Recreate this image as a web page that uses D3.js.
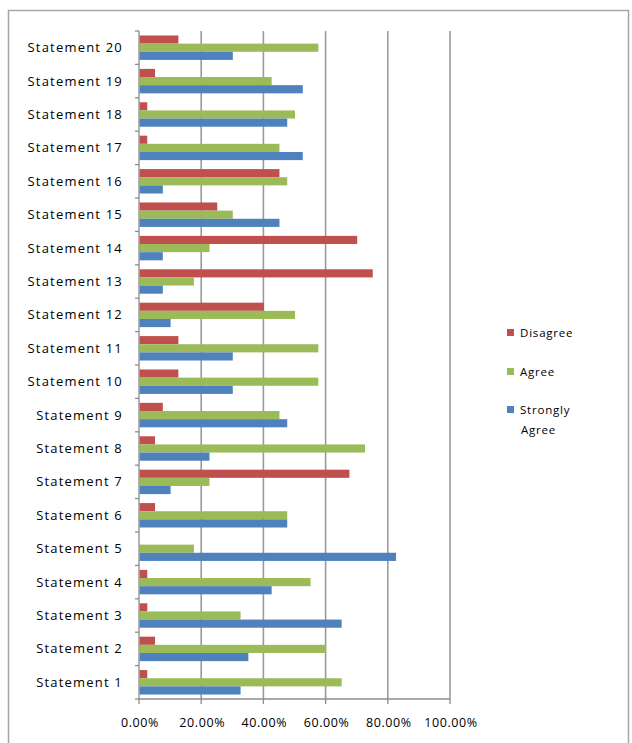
<!DOCTYPE html>
<html><head><meta charset="utf-8">
<script src="https://cdn.jsdelivr.net/npm/d3@7"></script>
<style>body{margin:0;background:#fff}svg{display:block}</style>
</head><body>
<script>
const categories = ["Statement 1","Statement 2","Statement 3","Statement 4","Statement 5","Statement 6","Statement 7","Statement 8","Statement 9","Statement 10","Statement 11","Statement 12","Statement 13","Statement 14","Statement 15","Statement 16","Statement 17","Statement 18","Statement 19","Statement 20"];
const disagree = [0.025,0.05,0.025,0.025,0,0.05,0.675,0.05,0.075,0.125,0.125,0.40,0.75,0.70,0.25,0.45,0.025,0.025,0.05,0.125];
const agree = [0.65,0.60,0.325,0.55,0.175,0.475,0.225,0.725,0.45,0.575,0.575,0.50,0.175,0.225,0.30,0.475,0.45,0.50,0.425,0.575];
const stronglyAgree = [0.325,0.35,0.65,0.425,0.825,0.475,0.10,0.225,0.475,0.30,0.30,0.10,0.075,0.075,0.45,0.075,0.525,0.475,0.525,0.30];
const xTicks = [0,0.2,0.4,0.6,0.8,1.0];
const xTickLabels = ["0.00%","20.00%","40.00%","60.00%","80.00%","100.00%"];
const seriesNames = ["Disagree","Agree","Strongly Agree"];
const seriesColors = ["#c0504d","#9bbb59","#4f81bd"];
const seriesData = [disagree, agree, stronglyAgree];

(function(){
const W = 632, H = 743;
const svg = d3.select("body").append("svg").attr("width", W).attr("height", H);
const font = "'Open Sans', 'Liberation Sans', sans-serif";

svg.append("rect").attr("x", 8.5).attr("y", 10.5).attr("width", 620).attr("height", 740)
  .attr("fill", "#fff").attr("stroke", "#a6a6a6").attr("stroke-width", 1.5);

const pl = 139, pr = 450, pt = 31, pb = 699;
const x = d3.scaleLinear().domain([0, 1]).range([pl, pr]);
const y = d3.scaleBand().domain(categories.slice().reverse()).range([pt, pb]).paddingInner(0).paddingOuter(0);
const inner = d3.scaleBand().domain(seriesNames).range([0, y.bandwidth()]).paddingOuter(0.55).paddingInner(0);

svg.append("g").selectAll("line").data(xTicks.slice(1)).join("line")
  .attr("x1", d => x(d)).attr("x2", d => x(d)).attr("y1", pt).attr("y2", pb)
  .attr("stroke", "#9a9a9a").attr("stroke-width", 1.6);

categories.forEach((c, i) => {
  seriesNames.forEach((s, k) => {
    const v = seriesData[k][i];
    if (v <= 0) return;
    svg.append("rect")
      .attr("x", x(0) + 0.5).attr("y", y(c) + inner(s))
      .attr("width", x(v) - x(0)).attr("height", inner.bandwidth())
      .attr("fill", seriesColors[k]);
  });
});

const yAxisG = svg.append("g");
yAxisG.append("line").attr("x1", pl).attr("x2", pl).attr("y1", pt).attr("y2", pb)
  .attr("stroke", "#8c8c8c").attr("stroke-width", 1.3);
const boundaries = d3.range(categories.length + 1).map(i => pt + i * y.step());
yAxisG.selectAll(".yt").data(boundaries).join("line").attr("class","yt")
  .attr("x1", pl - 4).attr("x2", pl).attr("y1", d => d).attr("y2", d => d)
  .attr("stroke", "#8c8c8c").attr("stroke-width", 1.3);
yAxisG.selectAll(".yl").data(categories).join("text").attr("class","yl")
  .attr("x", 123).attr("y", d => y(d) + y.bandwidth() / 2 + 4.5)
  .attr("text-anchor", "end").attr("font-family", font).attr("font-size", 13)
  .attr("letter-spacing", 1.2).attr("fill", "#000").text(d => d);

const xAxisG = svg.append("g");
xAxisG.append("line").attr("x1", pl).attr("x2", pr).attr("y1", pb).attr("y2", pb)
  .attr("stroke", "#8c8c8c").attr("stroke-width", 1.3);
xAxisG.selectAll(".xt").data(xTicks).join("line").attr("class","xt")
  .attr("x1", d => x(d)).attr("x2", d => x(d)).attr("y1", pb).attr("y2", pb + 5)
  .attr("stroke", "#8c8c8c").attr("stroke-width", 1.3);
xAxisG.selectAll(".xl").data(xTicks).join("text").attr("class","xl")
  .attr("x", d => x(d) + 1).attr("y", 727).attr("text-anchor", "middle")
  .attr("font-family", font).attr("font-size", 12.5).attr("letter-spacing", 0.6).attr("fill", "#000")
  .text((d, i) => xTickLabels[i]);

const legY = [333, 372, 410];
const leg = svg.append("g");
seriesNames.forEach((s, k) => {
  leg.append("rect").attr("x", 507).attr("y", legY[k] - 4).attr("width", 7).attr("height", 7).attr("fill", seriesColors[k]);
  const t = leg.append("text").attr("x", 520).attr("y", legY[k] + 4)
    .attr("font-family", font).attr("font-size", 11.5).attr("letter-spacing", 0.8).attr("fill", "#000");
  if (s === "Strongly Agree") {
    t.append("tspan").attr("x", 520).text("Strongly");
    t.append("tspan").attr("x", 521).attr("dy", 20).text("Agree");
  } else t.text(s);
});
})();
</script>
</body></html>
